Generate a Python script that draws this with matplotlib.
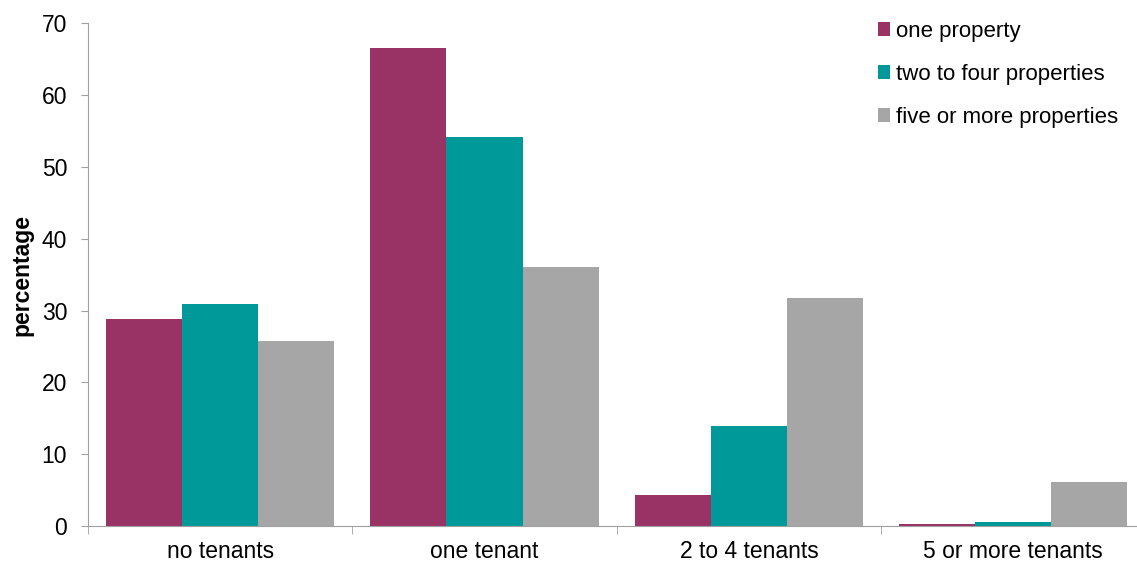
import matplotlib.pyplot as plt
import numpy as np

plt.rcParams['font.family'] = ['Liberation Sans', 'DejaVu Sans']

categories = ['no tenants', 'one tenant', '2 to 4 tenants', '5 or more tenants']
series_names = ['one property', 'two to four properties', 'five or more properties']
one_property = [28.8, 66.5, 4.3, 0.3]
two_to_four = [30.9, 54.2, 13.9, 0.6]
five_or_more = [25.7, 36.0, 31.8, 6.1]
colors = ['#993366', '#009999', '#a6a6a6']

fig = plt.figure(figsize=(11.37, 5.65), dpi=100)
ax = fig.add_axes([0.0774, 0.069, 0.93, 0.89])

x = np.arange(len(categories))
w = 0.288
for i, (vals, name) in enumerate(zip([one_property, two_to_four, five_or_more], series_names)):
    ax.bar(x + (i - 1) * w, vals, width=w, color=colors[i], label=name)

fs = 16.5
ax.set_xlim(-0.5, 3.5)
ax.set_ylim(0, 70)
ax.set_yticks(range(0, 71, 10))
ax.set_xticks(x)
ax.set_xticklabels(categories)
ax.set_xticks(np.arange(-0.5, 4.0, 1.0), minor=True)
ax.tick_params(axis='x', which='major', length=0, labelsize=fs, pad=10)
ax.tick_params(axis='x', which='minor', length=6, color='#a0a0a0')
ax.tick_params(axis='y', labelsize=fs, length=5, color='#a0a0a0', pad=10)
ax.set_ylabel('percentage', fontsize=fs, fontweight='bold', labelpad=6)

for s in ['top', 'right']:
    ax.spines[s].set_visible(False)
ax.spines['left'].set_color('#a0a0a0')
ax.spines['bottom'].set_color('#a0a0a0')

ax.legend(loc='upper left', bbox_to_anchor=(0.728, 1.045), frameon=False,
          fontsize=16, handlelength=0.55, handleheight=0.6, handletextpad=0.25,
          labelspacing=1.0)

fig.savefig('out.png', dpi=100)
